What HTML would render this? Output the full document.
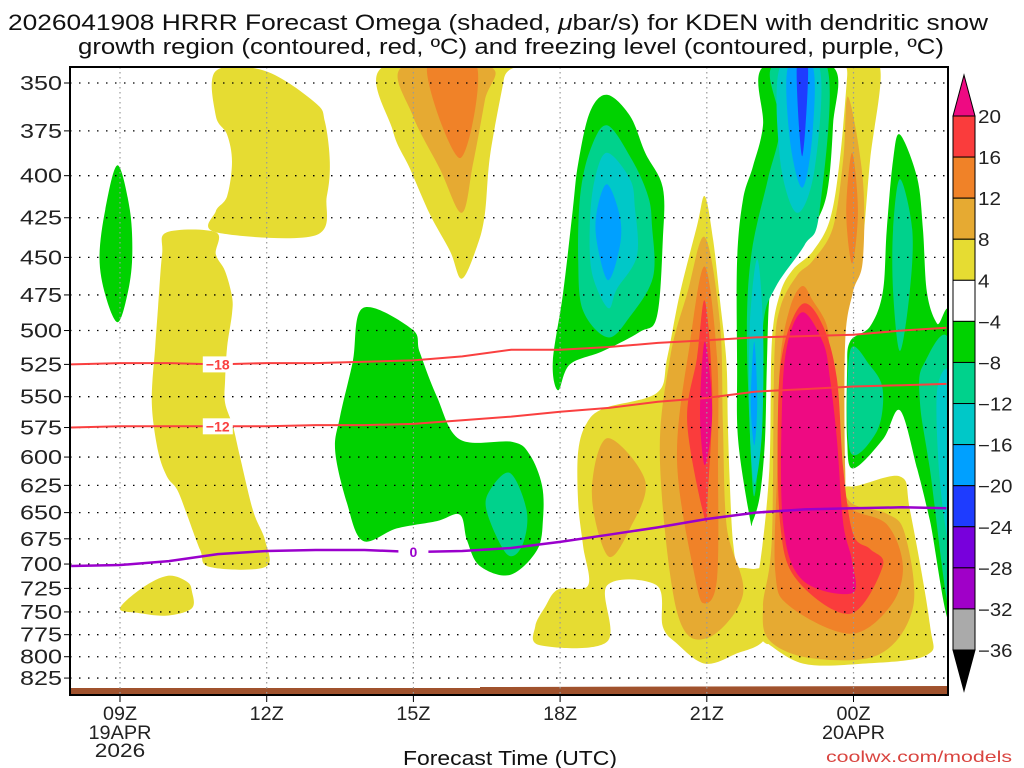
<!DOCTYPE html>
<html><head><meta charset="utf-8"><title>HRRR Omega KDEN</title>
<style>
html,body{margin:0;padding:0;background:#fff;}
svg{display:block;font-family:"Liberation Sans",sans-serif;}
</style></head>
<body>
<svg id="chart" width="1024" height="768" viewBox="0 0 1024 768" xmlns="http://www.w3.org/2000/svg">
<defs><clipPath id="plotclip"><rect x="70" y="67" width="878" height="628"/></clipPath></defs>
<rect x="0" y="0" width="1024" height="768" fill="#fff"/>
<text x="8" y="30" font-size="22" textLength="980" lengthAdjust="spacingAndGlyphs" fill="#111">2026041908 HRRR Forecast Omega (shaded, <tspan font-style="italic">μ</tspan>bar/s) for KDEN with dendritic snow</text>
<text x="78" y="54" font-size="22" textLength="866" lengthAdjust="spacingAndGlyphs" fill="#111">growth region (contoured, red, ºC) and freezing level (contoured, purple, ºC)</text>
<g id="shades" clip-path="url(#plotclip)"></g>
<g id="grid" clip-path="url(#plotclip)"></g>
<g id="contours" clip-path="url(#plotclip)"></g>
<g id="axes"></g>
<g id="cbar"></g>
<text x="403" y="765" font-size="20" textLength="214" lengthAdjust="spacingAndGlyphs" fill="#111">Forecast Time (UTC)</text>
<text x="826" y="762" font-size="16" textLength="186" lengthAdjust="spacingAndGlyphs" fill="#d9443f">coolwx.com/models</text>
</svg>
<script>
// ---- data ----
const pressureLevels = [350,375,400,425,450,475,500,525,550,575,600,625,650,675,700,725,750,775,800,825];
const tickHours = [0,3,6,9,12,15];
const tickLabels = ['09Z','12Z','15Z','18Z','21Z','00Z'];
const dateLabels = [['19APR','2026'],[],[],[],[],['20APR']];
const cbLevels = [20,16,12,8,4,-4,-8,-12,-16,-20,-24,-28,-32,-36];
const cbColors = ['#fa3c3c','#f08228','#e6aa32','#e6dc32','#ffffff','#00d200','#00d28c','#00c8c8','#00a0ff','#1e3cff','#7800dc','#a000c8','#aaaaaa'];
const levelColor = {Y:'#e6dc32',G:'#e6aa32',O:'#f08228',R:'#fa3c3c',M:'#ee0a82',g:'#00d200',t:'#00d28c',c:'#00c8c8',s:'#00a0ff',b:'#1e3cff'};
// contour temperature lines (hours since 09Z, pressure hPa)
const lineHours = [-1,0,1,2,3,4,5,6,7,8,9,10,11,12,13,14,15,16,16.9];
const isoM18 = [525,524,524,525,524,524,523,522,519,514,514,512,509,507,505,504,503,500,498];
const isoM12 = [575,574,574,574,574,573,573,572,569,566,562,559,554,551,546,544,542,541,540];
const iso0   = [702,701,697,690,687,686,686,688,687,684,678,671,664,656,650,647,646,645,646];
// shaded omega regions: level + outline [hour, hPa]
const shapes = [
 ['Y',[[12.5,712],[12.95,705],[13.3,712],[13.3,782],[12.95,775],[12.5,782]]],
 ['Y',[[1.96,344],[2.97,344],[3.99,360],[4.19,370],[4.29,392],[4.23,412],[3.99,436],[1.96,434],[1.96,421],[2.19,412],[2.29,392],[2.19,377],[1.96,367]]],
 ['Y',[[0.96,434],[1.96,434],[1.96,448],[2.15,459],[2.29,476],[2.29,488],[2.19,512],[2.15,537],[2.15,555],[2.31,574],[2.45,599],[2.72,648],[2.97,677],[2.97,703],[1.84,703],[1.64,686],[1.37,652],[1.17,629],[0.96,617],[0.78,595],[0.65,555],[0.72,512],[0.78,483],[0.86,448]]],
 ['Y',[[0,746],[0.47,724],[0.98,712],[1.37,718],[1.47,728],[1.47,746],[0.96,754],[0.35,751]]],
 ['Y',[[5.38,342],[5.58,375],[5.93,396],[6.34,423],[6.75,446],[6.99,464],[7.3,443],[7.46,423],[7.57,388],[7.85,348],[7.87,342]]],
 ['Y',[[11.96,412],[12.13,439],[12.27,479],[12.4,523],[12.43,571],[12.47,623],[12.54,680],[12.68,705],[13.2,725],[13.2,778],[12.58,797],[11.96,808],[11.39,785],[11.1,766],[10.98,722],[9.96,722],[9.96,783],[8.59,787],[8.49,766],[8.69,745],[8.96,726],[9.57,722],[9.47,682],[9.37,641],[9.37,595],[9.55,571],[9.92,559],[10.98,547],[11.19,520],[11.45,474],[11.8,430]]],
 ['Y',[[14.87,342],[15.54,342],[15.34,391],[15.19,441],[15.07,461],[14.87,482],[14.79,497],[14.72,610],[14.93,626],[15.95,617],[16.16,649],[16.56,763],[16.5,798],[15.19,808],[13.97,808],[13.15,782],[12.94,782],[12.94,722],[13.09,699],[13.28,610],[13.33,509],[13.5,474],[13.76,458],[14.17,446],[14.52,426],[14.72,391],[14.87,347]]],
 ['G',[[5.77,342],[5.99,367],[6.54,396],[6.99,422],[7.22,393],[7.46,359],[7.57,342]]],
 ['G',[[11.96,437],[12.27,495],[12.33,573],[12.41,664],[12.74,731],[12.0,779],[11.39,750],[11.04,602],[11.25,520],[11.6,474]]],
 ['G',[[9.96,584],[10.74,621],[10.43,665],[9.98,692],[9.65,633]]],
 ['G',[[14.89,357],[15.19,402],[15.19,452],[14.99,473],[14.83,508],[14.83,610],[14.93,640],[15.68,651],[16.05,670],[16.22,744],[15.54,797],[14.17,802],[13.29,782],[13.15,744],[13.33,676],[13.38,523],[13.5,484],[13.84,462],[14.17,452],[14.58,431],[14.79,391]]],
 ['O',[[6.28,342],[6.95,390],[7.3,342]]],
 ['O',[[11.96,456],[12.21,520],[12.23,602],[12.21,714],[11.96,741],[11.76,714],[11.39,602],[11.66,508]]],
 ['O',[[14.97,387],[15.09,421],[14.97,454],[14.85,421]]],
 ['O',[[13.95,469],[14.17,479],[14.46,497],[14.52,524],[14.66,555],[14.72,610],[14.93,645],[15.68,661],[16.01,702],[15.75,744],[14.93,774],[13.7,744],[13.4,708],[13.44,610],[13.5,523],[13.7,484]]],
 ['R',[[11.96,479],[12.11,546],[12.02,633],[11.96,656],[11.6,571],[11.8,520]]],
 ['R',[[13.97,481],[14.38,497],[14.66,536],[14.79,610],[14.99,670],[15.34,685],[15.6,702],[14.93,752],[13.84,716],[13.5,660],[13.46,555],[13.6,508]]],
 ['M',[[11.96,508],[12.11,562],[11.96,607],[11.86,562]]],
 ['M',[[13.97,487],[14.38,509],[14.52,536],[14.66,585],[14.79,660],[14.97,697],[14.97,730],[13.95,716],[13.56,660],[13.54,555],[13.66,508]]],
 ['g',[[-0.05,394],[0.2,420],[0.25,450],[0.15,475],[-0.05,494],[-0.3,475],[-0.42,450],[-0.3,420]]],
 ['g',[[4.97,484],[5.97,499],[6.13,516],[6.48,550],[6.95,585],[8.02,587],[8.38,598],[8.63,625],[8.65,656],[8.53,686],[7.98,711],[7.36,702],[7.1,677],[6.95,652],[6.48,658],[5.66,665],[4.97,677],[4.64,641],[4.4,595],[4.5,566],[4.76,523]]],
 ['g',[[9.96,356],[10.43,367],[10.74,387],[11.1,407],[11.1,439],[10.98,490],[10.63,501],[9.88,515],[9.2,525],[8.96,545],[8.85,523],[9.06,474],[9.26,420],[9.37,393],[9.61,365]]],
 ['g',[[13.15,342],[13.15,372],[12.94,395],[12.74,414],[12.62,452],[12.62,525],[12.64,585],[12.88,655],[12.94,658],[13.09,633],[13.19,585],[13.23,525],[13.29,474],[13.5,452],[13.84,441],[14.17,431],[14.46,410],[14.58,372],[14.58,342]]],
 ['g',[[15.95,377],[16.3,401],[16.42,432],[16.5,473],[16.71,495],[17.0,500],[17.0,754],[16.56,657],[16.3,610],[15.95,561],[15.6,585],[14.99,610],[14.87,585],[14.87,530],[14.93,508],[15.34,497],[15.6,473],[15.68,432],[15.81,391]]],
 ['t',[[7.98,614],[8.32,649],[8.22,682],[7.91,690],[7.5,649],[7.57,629]]],
 ['t',[[9.96,372],[10.47,391],[10.8,412],[10.88,430],[10.9,463],[10.43,490],[9.98,505],[9.47,486],[9.37,452],[9.41,412],[9.61,386]]],
 ['t',[[13.33,342],[13.5,372],[13.25,402],[12.92,446],[12.82,497],[12.88,577],[12.97,635],[13.09,577],[13.15,497],[13.4,470],[14.0,442],[14.3,422],[14.46,342]]],
 ['t',[[15.95,402],[16.2,432],[16.15,473],[15.95,515],[15.81,473],[15.81,432]]],
 ['t',[[14.93,515],[15.34,526],[15.6,545],[15.48,578],[14.93,595]]],
 ['t',[[16.42,526],[17.0,515],[17.0,748],[16.56,610],[16.36,555]]],
 ['c',[[9.96,387],[10.43,402],[10.53,419],[10.57,449],[10.16,471],[9.98,484],[9.65,460],[9.61,428],[9.71,402]]],
 ['c',[[13.5,342],[13.5,391],[13.84,422],[14.2,397],[14.3,342]]],
 ['c',[[13.03,451],[13.15,497],[13.13,577],[12.98,623],[12.88,577],[12.88,497]]],
 ['c',[[16.71,545],[17.0,538],[17.0,680],[16.77,623]]],
 ['s',[[9.96,405],[10.22,424],[10.22,443],[9.98,465],[9.75,440],[9.75,421]]],
 ['s',[[13.66,342],[13.7,380],[13.95,407],[14.15,380],[14.17,342]]],
 ['s',[[12.97,508],[13.03,554],[12.97,590],[12.9,554]]],
 ['b',[[13.84,342],[13.95,389],[14.07,342]]]
];
// ---- scales ----
const NS='http://www.w3.org/2000/svg';
const PL=70, PR=948, PT=67, PB=695;
function xS(h){return 120 + h*48.9;}
function yS(p){return 83 + Math.log(p/350)*694;}
function mk(tag, attrs, parent){const e=document.createElementNS(NS,tag);for(const k in attrs)e.setAttribute(k,attrs[k]);parent.appendChild(e);return e;}
function smoothPath(pts){
  const n=pts.length;let d='M'+pts[0][0].toFixed(1)+','+pts[0][1].toFixed(1);
  for(let i=0;i<n;i++){
    const p0=pts[(i-1+n)%n],p1=pts[i],p2=pts[(i+1)%n],p3=pts[(i+2)%n];
    const c1x=p1[0]+(p2[0]-p0[0])/6,c1y=p1[1]+(p2[1]-p0[1])/6;
    const c2x=p2[0]-(p3[0]-p1[0])/6,c2y=p2[1]-(p3[1]-p1[1])/6;
    d+='C'+c1x.toFixed(1)+','+c1y.toFixed(1)+' '+c2x.toFixed(1)+','+c2y.toFixed(1)+' '+p2[0].toFixed(1)+','+p2[1].toFixed(1);
  }
  return d+'Z';
}
function linePath(hs,ps){return hs.map((h,i)=>(i?'L':'M')+xS(h).toFixed(1)+','+yS(ps[i]).toFixed(1)).join('');}
// ---- shading ----
const gS=document.getElementById('shades');
shapes.forEach(s=>{
  const pts=s[1].map(q=>[xS(q[0]),yS(q[1])]);
  const el=mk('path',{d:smoothPath(pts),fill:levelColor[s[0]],stroke:'none'},gS);
  
  
});
const gb=mk('path',{d:'M70,688 L480,688 L480,687 L948,686 L948,695 L70,695 Z',fill:'#a0522d'},gS);


// ---- grid ----
const gG=document.getElementById('grid');
pressureLevels.forEach(p=>{
  const l=mk('line',{x1:PL,x2:PR,y1:yS(p),y2:yS(p),stroke:'#000','stroke-width':1.3,'stroke-dasharray':'1.5,7.5'},gG);
  
  
});
tickHours.forEach(h=>{
  const l=mk('line',{x1:xS(h),x2:xS(h),y1:PT,y2:PB,stroke:'#999','stroke-width':1.2,'stroke-dasharray':'1.5,3.5'},gG);
  
  
});
// ---- contours ----
const gC=document.getElementById('contours');
function contour(ps,color,w,name,lh,label){
  const l=mk('path',{d:linePath(lineHours,ps),fill:'none',stroke:color,'stroke-width':w},gC);
  
  
  const i=lineHours.indexOf(lh);const x=xS(lh),y=yS(ps[i]);
  const r=mk('rect',{x:x-15,y:y-8,width:30,height:16,fill:'#fff'},gC);
  
  
  const t=mk('text',{x:x,y:y+5,'text-anchor':'middle','font-size':14,'font-weight':'bold',fill:color},gC);
  
  
  t.textContent=label;
}
contour(isoM18,'#fa4040',2,'isotherm-minus18',2,'\u221218');
contour(isoM12,'#fa4040',2,'isotherm-minus12',2,'\u221212');
contour(iso0,'#9a00cc',2.5,'freezing-level',6,'0');
// ---- axes ----
const gA=document.getElementById('axes');
const fr=mk('rect',{x:PL,y:PT,width:PR-PL,height:PB-PT,fill:'none',stroke:'#000','stroke-width':2},gA);


pressureLevels.forEach(p=>{
  const y=yS(p);
  const tk=mk('line',{x1:PL-6,x2:PL,y1:y,y2:y,stroke:'#000','stroke-width':1},gA);
  
  
  const t=mk('text',{x:62,y:y+7,'text-anchor':'end','font-size':20,fill:'#222',textLength:42,lengthAdjust:'spacingAndGlyphs'},gA);
  
  
  t.textContent=String(p);
});
tickHours.forEach((h,i)=>{
  const x=xS(h);
  const tk=mk('line',{x1:x,x2:x,y1:PB,y2:PB+7,stroke:'#000','stroke-width':1},gA);
  
  
  const t=mk('text',{x:x,y:720,'text-anchor':'middle','font-size':19,fill:'#222',textLength:34,lengthAdjust:'spacingAndGlyphs'},gA);
  
  
  t.textContent=tickLabels[i];
  dateLabels[i].forEach((s,j)=>{
    const d=mk('text',{x:x,y:739+j*18,'text-anchor':'middle','font-size':19,fill:'#222',textLength:s.length*12.6,lengthAdjust:'spacingAndGlyphs'},gA);
    
    
    d.textContent=s;
  });
});
// ---- colorbar ----
const gB=document.getElementById('cbar');
const cbX=953,cbW=22,cbTop=116,cbBot=650;
const step=(cbBot-cbTop)/(cbLevels.length-1);
function cbY(i){return cbTop+i*step;}
cbColors.forEach((c,i)=>{
  const r=mk('rect',{x:cbX,y:cbY(i),width:cbW,height:step,fill:c,stroke:'#000','stroke-width':1},gB);
  
  
});
const tu=mk('path',{d:`M${cbX},${cbTop} L${cbX+cbW/2},75 L${cbX+cbW},${cbTop} Z`,fill:'#ee0a82',stroke:'#000','stroke-width':1},gB);


const td=mk('path',{d:`M${cbX},${cbBot} L${cbX+cbW/2},691 L${cbX+cbW},${cbBot} Z`,fill:'#000',stroke:'#000','stroke-width':1},gB);


cbLevels.forEach((v,i)=>{
  const s=v<0?'\u2212'+(-v):String(v);
  const t=mk('text',{x:978,y:cbY(i)+7,'font-size':18,fill:'#222',textLength:s.length*11.5,lengthAdjust:'spacingAndGlyphs'},gB);
  
  
  t.textContent=s;
});
</script>
</body></html>
